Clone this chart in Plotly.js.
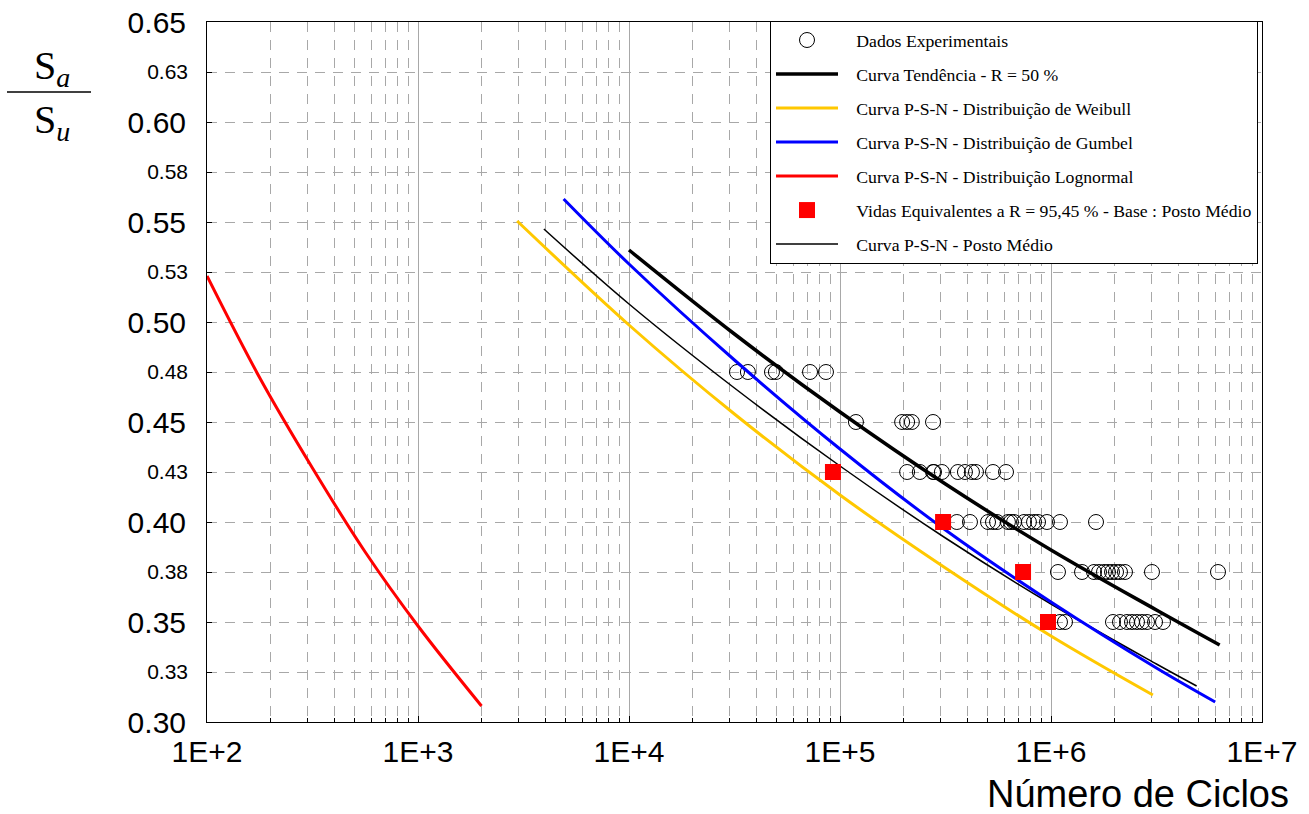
<!DOCTYPE html>
<html>
<head>
<meta charset="utf-8">
<script src="https://cdn.plot.ly/plotly-3.0.1.min.js"></script>
<style>html,body{margin:0;padding:0;background:#fff;}#chart{width:1309px;height:814px;}</style>
</head>
<body>
<div id="chart"></div>
<script>
// ---- Data ----
const expN = [32500, 36600, 47600, 49700, 72100, 85800,
  119000, 197000, 208000, 219000, 276000,
  208000, 239000, 276000, 279000, 304000, 362000, 391000, 422000, 441000, 531000, 612000,
  358000, 413000, 503000, 531000, 555000, 625000, 646000, 668000, 745000, 786000, 831000, 868000, 957000, 1103000, 1634000,
  1079000, 1403000, 1599000, 1689000, 1783000, 1863000, 1946000, 2033000, 2123000, 2242000, 3010000, 6187000,
  1103000, 1165000, 1967000, 2123000, 2292000, 2420000, 2556000, 2700000, 2851000, 3112000, 3395000];
const expS = [0.475, 0.475, 0.475, 0.475, 0.475, 0.475,
  0.45, 0.45, 0.45, 0.45, 0.45,
  0.425, 0.425, 0.425, 0.425, 0.425, 0.425, 0.425, 0.425, 0.425, 0.425, 0.425,
  0.40, 0.40, 0.40, 0.40, 0.40, 0.40, 0.40, 0.40, 0.40, 0.40, 0.40, 0.40, 0.40, 0.40, 0.40,
  0.375, 0.375, 0.375, 0.375, 0.375, 0.375, 0.375, 0.375, 0.375, 0.375, 0.375, 0.375,
  0.35, 0.35, 0.35, 0.35, 0.35, 0.35, 0.35, 0.35, 0.35, 0.35, 0.35];

const tendN = [10000, 31600, 100000, 316000, 1000000, 3160000, 6300000];
const tendS = [0.536, 0.494, 0.455, 0.419, 0.386, 0.356, 0.3385];

const weibullN = [2950, 10000, 31600, 100000, 316000, 1000000, 3040000];
const weibullS = [0.5505, 0.4985, 0.454, 0.4135, 0.377, 0.343, 0.3135];

const gumbelN = [4900, 10000, 31600, 100000, 316000, 1000000, 3160000, 6000000];
const gumbelS = [0.5615, 0.529, 0.481, 0.4365, 0.396, 0.360, 0.327, 0.310];

const lognormN = [100, 178, 316, 562, 1000, 2000];
const lognormS = [0.523, 0.472, 0.427, 0.385, 0.348, 0.308];

const eqN = [92600, 308000, 737000, 968000];
const eqS = [0.425, 0.40, 0.375, 0.35];

const postoN = [3950, 10000, 31600, 100000, 316000, 1000000, 3160000, 4900000];
const postoS = [0.5465, 0.509, 0.467, 0.428, 0.392, 0.359, 0.329, 0.318];

const seriesNames = [
  'Dados Experimentais',
  'Curva Tendência - R = 50 %',
  'Curva P-S-N - Distribuição de Weibull',
  'Curva P-S-N - Distribuição de Gumbel',
  'Curva P-S-N - Distribuição Lognormal',
  'Vidas Equivalentes a R = 95,45 % - Base : Posto Médio',
  'Curva P-S-N - Posto Médio'
];

const xTickVals = [1e2, 1e3, 1e4, 1e5, 1e6, 1e7];
const xTickText = ['1E+2', '1E+3', '1E+4', '1E+5', '1E+6', '1E+7'];
const yMajorVals = [0.30, 0.35, 0.40, 0.45, 0.50, 0.55, 0.60, 0.65];
const yMajorText = ['0.30', '0.35', '0.40', '0.45', '0.50', '0.55', '0.60', '0.65'];
const yMinorVals = [0.325, 0.375, 0.425, 0.475, 0.525, 0.575, 0.625];
const yMinorText = ['0.33', '0.38', '0.43', '0.48', '0.53', '0.58', '0.63'];

// ---- Build chart ----
const minorX = [];
for (let d = 2; d < 7; d++) for (let k = 2; k <= 9; k++) minorX.push(k * Math.pow(10, d));

const pad = '&nbsp;&nbsp;&nbsp;';
const lineTrace = (x, y, name, color, width, rank) => ({
  x: x, y: y, name: pad + name, type: 'scatter', mode: 'lines',
  line: {color: color, width: width, shape: 'spline', smoothing: 1},
  legendgroup: 'g' + rank, legendrank: rank
});

const data = [
  {x: expN, y: expS, name: pad + seriesNames[0], type: 'scatter', mode: 'markers',
   marker: {symbol: 'circle-open', size: 15, color: '#000', line: {width: 1, color: '#000'}},
   legendgroup: 'g1', legendrank: 1},
  lineTrace(lognormN, lognormS, seriesNames[4], '#ff0000', 3, 5),
  lineTrace(weibullN, weibullS, seriesNames[2], '#ffc800', 3, 3),
  lineTrace(postoN, postoS, seriesNames[6], '#000000', 1.5, 7),
  lineTrace(gumbelN, gumbelS, seriesNames[3], '#0000ff', 3, 4),
  lineTrace(tendN, tendS, seriesNames[1], '#000000', 3.5, 2),
  {x: eqN, y: eqS, name: pad + seriesNames[5], type: 'scatter', mode: 'markers',
   marker: {symbol: 'square', size: 16, color: '#ff0000'},
   legendgroup: 'g6', legendrank: 6},
  {x: [], y: [], yaxis: 'y2', showlegend: false, hoverinfo: 'skip', type: 'scatter'}
];

const L = 207, R = 1262, T = 22, B = 722;
const px2x = p => (p - L) / (R - L);
const px2y = p => (B - p) / (B - T);

const layout = {
  width: 1309, height: 814,
  margin: {l: L, r: 1309 - R, t: T, b: 814 - B, pad: 0},
  paper_bgcolor: '#fff', plot_bgcolor: '#fff',
  showlegend: true,
  legend: {
    x: px2x(770), y: px2y(21), xanchor: 'left', yanchor: 'top',
    bgcolor: '#fff', bordercolor: '#000', borderwidth: 1,
    font: {family: "'Liberation Serif', 'Times New Roman', serif", size: 17.7, color: '#000'},
    traceorder: 'grouped', tracegroupgap: 8, itemwidth: 62, itemsizing: 'trace'
  },
  xaxis: {
    type: 'log', range: [2, 7],
    tickvals: xTickVals, ticktext: xTickText,
    tickfont: {family: "'Liberation Sans', Arial, sans-serif", size: 30, color: '#000'},
    ticks: 'inside', ticklen: 6, tickcolor: '#000',
    showline: true, linecolor: '#000', linewidth: 1, mirror: true,
    showgrid: true, gridcolor: '#a8a8a8', gridwidth: 1,
    zeroline: false, ticklabelstandoff: 3,
    minor: {tickvals: minorX, ticks: 'inside', ticklen: 4, tickcolor: '#000',
            showgrid: true, gridcolor: '#a8a8a8', griddash: '10px,8px', gridwidth: 1}
  },
  yaxis: {
    range: [0.30, 0.65],
    tickvals: yMajorVals, ticktext: yMajorText,
    tickfont: {family: "'Liberation Sans', Arial, sans-serif", size: 30, color: '#000'},
    ticks: 'inside', ticklen: 5, tickcolor: '#000',
    showline: true, linecolor: '#000', linewidth: 1, mirror: true,
    showgrid: true, gridcolor: '#a8a8a8', griddash: '10px,8px', gridwidth: 1,
    zeroline: false, ticklabelstandoff: 14,
    minor: {tickvals: yMinorVals, ticks: 'inside', ticklen: 5, tickcolor: '#000',
            showgrid: true, gridcolor: '#a8a8a8', griddash: '10px,8px', gridwidth: 1}
  },
  yaxis2: {
    overlaying: 'y', side: 'left', range: [0.30, 0.65],
    tickvals: yMinorVals, ticktext: yMinorText,
    tickfont: {family: "'Liberation Sans', Arial, sans-serif", size: 21, color: '#000'},
    ticks: '', showgrid: false, zeroline: false, showline: false,
    ticklabelstandoff: 18
  },
  shapes: [
    {type: 'line', xref: 'paper', yref: 'paper', x0: px2x(7), x1: px2x(91), y0: px2y(92), y1: px2y(92),
     line: {color: '#000', width: 1.5}}
  ],
  annotations: [
    {text: 'S<sub><i>a</i></sub>', xref: 'paper', yref: 'paper', x: px2x(52), y: px2y(68),
     xanchor: 'center', yanchor: 'middle', showarrow: false,
     font: {family: "'Liberation Serif', 'Times New Roman', serif", size: 40, color: '#000'}},
    {text: 'S<sub><i>u</i></sub>', xref: 'paper', yref: 'paper', x: px2x(52), y: px2y(122),
     xanchor: 'center', yanchor: 'middle', showarrow: false,
     font: {family: "'Liberation Serif', 'Times New Roman', serif", size: 40, color: '#000'}},
    {text: 'Número de Ciclos', xref: 'paper', yref: 'paper', x: px2x(1291), y: px2y(794),
     xanchor: 'right', yanchor: 'middle', showarrow: false, height: 36, valign: 'middle',
     font: {family: "'Liberation Sans', Arial, sans-serif", size: 38, color: '#000'}}
  ]
};

Plotly.newPlot('chart', data, layout, {displayModeBar: false, staticPlot: true});
</script>
</body>
</html>
